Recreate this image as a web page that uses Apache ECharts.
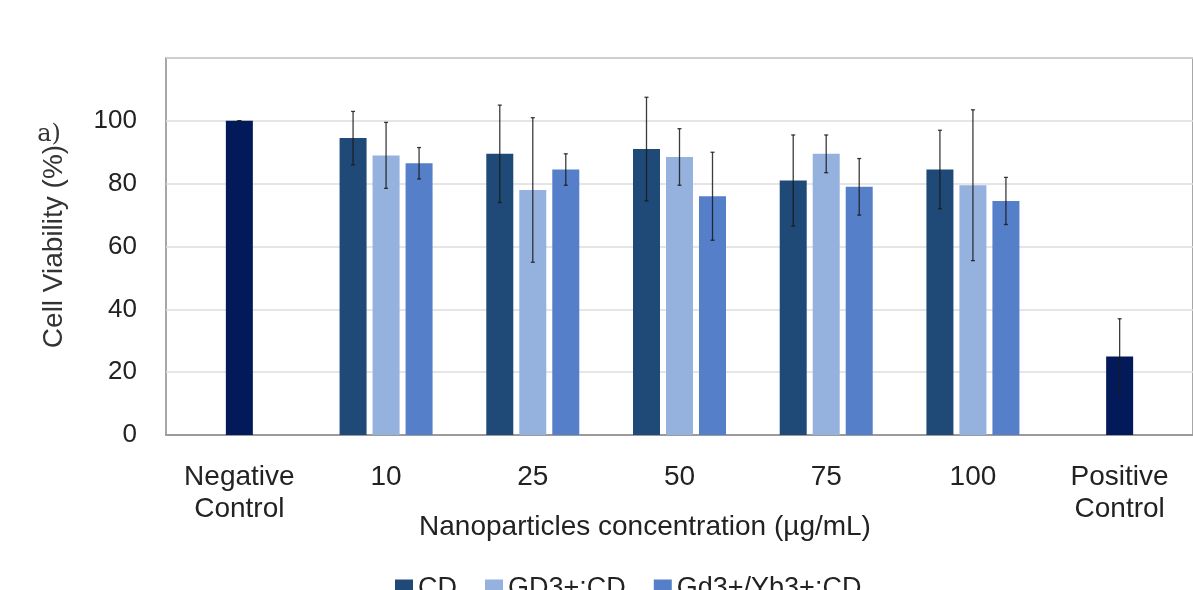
<!DOCTYPE html>
<html>
<head>
<meta charset="utf-8">
<script src="https://cdn.jsdelivr.net/npm/echarts@6/dist/echarts.min.js"></script>
<style>
  html, body { margin: 0; padding: 0; background: #fff; }
  #main { width: 1193px; height: 590px; }
</style>
</head>
<body>
<div id="main"></div>
<script>
// categories on the x axis
var categories = ['Negative\nControl', '10', '25', '50', '75', '100', 'Positive\nControl']
var yTicks = [0, 20, 40, 60, 80, 100]

// controls (centered single bars)
var controlValues = [100, null, null, null, null, null, 25]
var controlErrors = [0, null, null, null, null, null, 12]

// nanoparticle groups
var cdValues = [null, 94.5, 89.5, 91, 81, 84.5, null]
var cdErrors = [null, 8.5, 15.5, 16.5, 14.5, 12.5, null]
var gdValues = [null, 89, 78, 88.5, 89.5, 79.5, null]
var gdErrors = [null, 10.5, 23, 9, 6, 24, null]
var ybValues = [null, 86.5, 84.5, 76, 79, 74.5, null]
var ybErrors = [null, 5, 5, 14, 9, 7.5, null]

var FONT = 'Liberation Sans, Arial, sans-serif'
var BAR_W = 27
var BAR_GAP = 6

// build [index, low, high] for error bars
function errData(values, errors) {
  var out = []
  values.forEach(function (v, i) {
    if (v == null || errors[i] == null) return
    out.push([i, v - errors[i], v + errors[i]])
  })
  return out
}

// error bar drawer, shifted to sit on its bar in the group
function errRender(slot) {
  return function (params, api) {
    var i = api.value(0)
    var lo = api.coord([i, api.value(1)])
    var hi = api.coord([i, api.value(2)])
    var x = lo[0] + slot * (BAR_W + BAR_GAP)
    var cap = 2
    var st = { stroke: '#1a1a1a', lineWidth: 1.3, opacity: 0.85 }
    return {
      type: 'group',
      children: [
        { type: 'line', shape: { x1: x, y1: lo[1], x2: x, y2: hi[1] }, style: st },
        { type: 'line', shape: { x1: x - cap, y1: lo[1], x2: x + cap, y2: lo[1] }, style: st },
        { type: 'line', shape: { x1: x - cap, y1: hi[1], x2: x + cap, y2: hi[1] }, style: st }
      ]
    }
  }
}

function errSeries(name, values, errors, slot, axisIdx) {
  return {
    name: name,
    type: 'custom',
    xAxisIndex: axisIdx,
    renderItem: errRender(slot),
    encode: { x: 0, y: [1, 2] },
    data: errData(values, errors),
    z: 10,
    silent: true
  }
}

var myChart = echarts.init(document.getElementById('main'))
var option = {
  backgroundColor: '#fff',
  animation: false,
  textStyle: { fontFamily: FONT },
  grid: {
    left: 166,
    right: -3,
    top: 58,
    bottom: 155,
    show: true,
    borderColor: '#8a8a8a',
    borderWidth: 1.5
  },
  legend: {
    data: ['CD', 'GD3+:CD', 'Gd3+/Yb3+:CD'],
    left: 390,
    top: 570,
    itemWidth: 18,
    itemHeight: 18,
    itemGap: 28,
    icon: 'rect',
    textStyle: { fontSize: 27, color: '#222', fontFamily: FONT }
  },
  xAxis: [
    {
      type: 'category',
      data: categories,
      axisTick: { show: false },
      axisLine: { lineStyle: { color: '#8a8a8a', width: 1.5 } },
      axisLabel: {
        interval: 0,
        margin: 26,
        fontSize: 28,
        lineHeight: 32,
        color: '#222',
        fontFamily: FONT
      }
    },
    {
      type: 'category',
      data: categories,
      show: false,
      position: 'bottom'
    }
  ],
  yAxis: {
    type: 'value',
    min: 0,
    max: 120,
    interval: 20,
    name: 'Cell Viability (%)',
    nameLocation: 'middle',
    nameGap: 98,
    nameTextStyle: { fontSize: 28, color: '#333', fontFamily: FONT },
    axisLine: { show: false },
    axisTick: { show: false },
    splitLine: { lineStyle: { color: '#dcdcdc', width: 1.5 } },
    axisLabel: {
      margin: 29,
      fontSize: 26,
      color: '#222',
      fontFamily: FONT,
      formatter: function (v) {
        return yTicks.indexOf(v) >= 0 ? String(v) : ''
      }
    }
  },
  graphic: [
    {
      type: 'text',
      x: 645,
      y: 527,
      style: {
        text: 'Nanoparticles concentration (µg/mL)',
        fontSize: 28,
        fill: '#222',
        fontFamily: FONT,
        align: 'center',
        verticalAlign: 'middle'
      }
    },
    {
      type: 'text',
      x: 49,
      y: 135,
      style: {
        text: 'a)',
        fontSize: 24,
        fill: '#333',
        fontFamily: 'DejaVu Serif, serif',
        align: 'center',
        verticalAlign: 'middle'
      }
    }
  ],
  series: [
    {
      name: 'CD',
      type: 'bar',
      data: cdValues,
      barWidth: BAR_W,
      barGap: (BAR_GAP / BAR_W * 100) + '%',
      itemStyle: { color: '#1f4a78' }
    },
    {
      name: 'GD3+:CD',
      type: 'bar',
      data: gdValues,
      barWidth: BAR_W,
      itemStyle: { color: '#95b1de' }
    },
    {
      name: 'Gd3+/Yb3+:CD',
      type: 'bar',
      data: ybValues,
      barWidth: BAR_W,
      itemStyle: { color: '#557fc9' }
    },
    {
      name: 'Control',
      type: 'bar',
      xAxisIndex: 1,
      data: controlValues,
      barWidth: BAR_W,
      itemStyle: { color: '#031a5a' }
    },
    errSeries('CD err', cdValues, cdErrors, -1, 0),
    errSeries('GD err', gdValues, gdErrors, 0, 0),
    errSeries('Yb err', ybValues, ybErrors, 1, 0),
    errSeries('Control err', controlValues, controlErrors, 0, 1)
  ]
}
myChart.setOption(option)
</script>
</body>
</html>
